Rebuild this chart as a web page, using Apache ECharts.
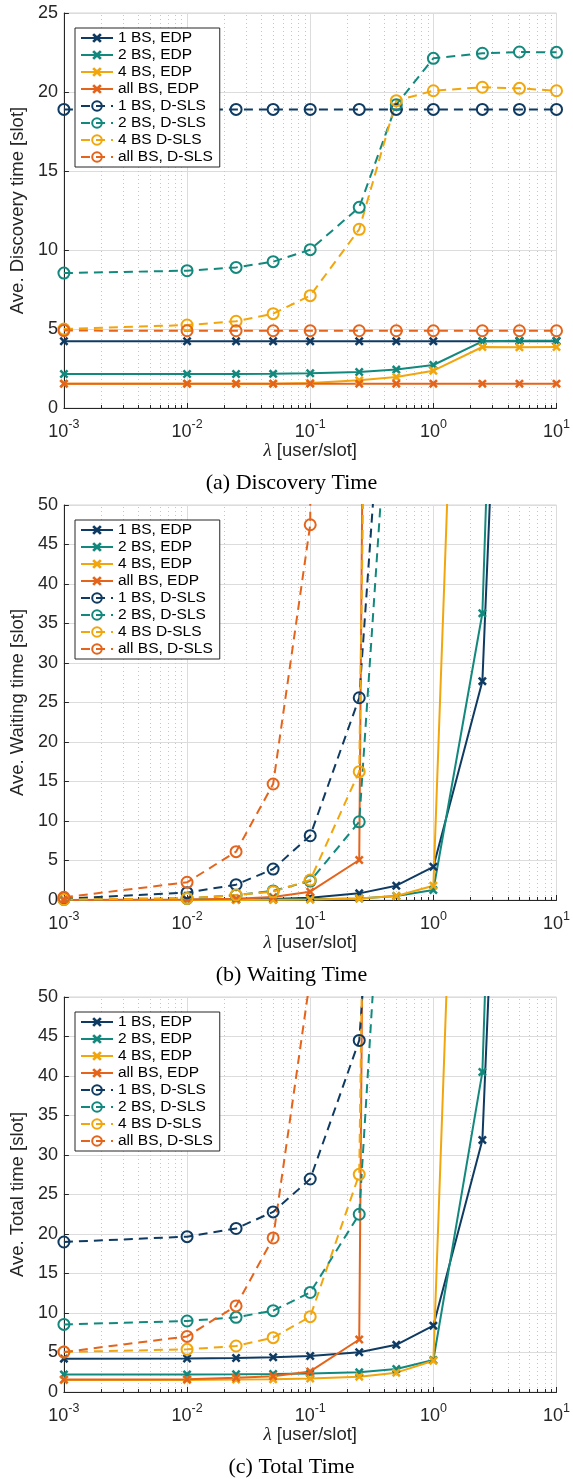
<!DOCTYPE html>
<html><head><meta charset="utf-8">
<script src="https://cdn.jsdelivr.net/npm/echarts@6/dist/echarts.min.js"></script>
<style>html,body{margin:0;padding:0;background:#fff}#c{width:573px;height:1479px}</style>
</head><body><div id="c"></div>
<script>
// ---------------- data ----------------
const lambda = [0.001, 0.01, 0.025, 0.05, 0.1, 0.25, 0.5, 1, 2.5, 5, 10];
const seriesNames = ['1 BS, EDP', '2 BS, EDP', '4 BS, EDP', 'all BS, EDP',
                     '1 BS, D-SLS', '2 BS, D-SLS', '4 BS D-SLS', 'all BS, D-SLS'];
const xTickLabels = ['10^-3', '10^-2', '10^-1', '10^0', '10^1'];
const minorMultipliers = [2, 3, 4, 5, 6, 7, 8, 9];
const decadeStarts = [0.001, 0.01, 0.1, 1];

// (a) Discovery time
const disc_1BS_EDP  = [4.22, 4.22, 4.22, 4.22, 4.22, 4.22, 4.22, 4.22, 4.22, 4.22, 4.22];
const disc_2BS_EDP  = [2.15, 2.15, 2.15, 2.16, 2.2, 2.28, 2.43, 2.72, 4.22, 4.26, 4.26];
const disc_4BS_EDP  = [1.54, 1.54, 1.54, 1.54, 1.58, 1.75, 1.96, 2.36, 3.86, 3.84, 3.86];
const disc_allBS_EDP = [1.54, 1.54, 1.54, 1.54, 1.54, 1.54, 1.54, 1.54, 1.54, 1.54, 1.54];
const disc_1BS_DSLS = [18.9, 18.9, 18.9, 18.9, 18.9, 18.9, 18.9, 18.9, 18.9, 18.9, 18.9];
const disc_2BS_DSLS = [8.54, 8.69, 8.9, 9.26, 10.02, 12.7, 19.2, 22.13, 22.45, 22.53, 22.51];
const disc_4BS_DSLS = [5.0, 5.25, 5.49, 5.97, 7.11, 11.31, 19.45, 20.08, 20.3, 20.23, 20.08];
const disc_allBS_DSLS = [4.9, 4.89, 4.89, 4.89, 4.89, 4.89, 4.89, 4.89, 4.89, 4.89, 4.89];

// (b) Waiting time  (null = not drawn)
const wait_1BS_EDP  = [0.0, 0.03, 0.06, 0.12, 0.3, 0.84, 1.81, 4.2, 27.7, 140, null];
const wait_2BS_EDP  = [0.0, 0.01, 0.02, 0.04, 0.1, 0.2, 0.5, 1.27, 36.3, 177, null];
const wait_4BS_EDP  = [0.0, 0.0, 0.01, 0.02, 0.06, 0.18, 0.5, 1.81, 174, null, null];
const wait_allBS_EDP = [0.0, 0.05, 0.15, 0.37, 1.05, 5.06, 575, null, null, null, null];
const wait_1BS_DSLS = [0.17, 0.93, 1.94, 3.92, 8.14, 25.6, 92, null, null, null, null];
const wait_2BS_DSLS = [0.06, 0.2, 0.6, 1.15, 2.4, 9.9, 80, null, null, null, null];
const wait_4BS_DSLS = [0.06, 0.2, 0.63, 1.05, 2.53, 16.25, 350, null, null, null, null];
const wait_allBS_DSLS = [0.34, 2.24, 6.12, 14.68, 47.5, 2000, null, null, null, null, null];

// (c) Total time
const tot_1BS_EDP  = [4.22, 4.24, 4.3, 4.4, 4.56, 5.03, 5.97, 8.4, 31.9, 144, null];
const tot_2BS_EDP  = [2.23, 2.23, 2.24, 2.27, 2.33, 2.49, 2.91, 4.05, 40.5, 181, null];
const tot_4BS_EDP  = [1.52, 1.53, 1.57, 1.6, 1.7, 1.94, 2.45, 3.95, 178, null, null];
const tot_allBS_EDP = [1.58, 1.6, 1.8, 2.0, 2.6, 6.65, 577, null, null, null, null];
const tot_1BS_DSLS = [18.99, 19.66, 20.7, 22.8, 26.96, 44.5, 111, null, null, null, null];
const tot_2BS_DSLS = [8.56, 8.99, 9.45, 10.3, 12.6, 22.5, 99, null, null, null, null];
const tot_4BS_DSLS = [5.06, 5.4, 5.82, 6.88, 9.54, 27.55, 370, null, null, null, null];
const tot_allBS_DSLS = [5.06, 7.04, 10.9, 19.5, 52.4, 2005, null, null, null, null, null];

const panelTitles = ['Ave. Discovery time [slot]', 'Ave. Waiting time [slot]', 'Ave. Total time [slot]'];
const captions = ['(a) Discovery Time', '(b) Waiting Time', '(c) Total Time'];
const yMaxes = [25, 50, 50];

// ---------------- styling ----------------
const COLORS = ['#0f3b63', '#13897e', '#f2a60d', '#e5641b', '#0f3b63', '#13897e', '#f2a60d', '#e5641b'];
const panels = [
  [disc_1BS_EDP, disc_2BS_EDP, disc_4BS_EDP, disc_allBS_EDP, disc_1BS_DSLS, disc_2BS_DSLS, disc_4BS_DSLS, disc_allBS_DSLS],
  [wait_1BS_EDP, wait_2BS_EDP, wait_4BS_EDP, wait_allBS_EDP, wait_1BS_DSLS, wait_2BS_DSLS, wait_4BS_DSLS, wait_allBS_DSLS],
  [tot_1BS_EDP, tot_2BS_EDP, tot_4BS_EDP, tot_allBS_EDP, tot_1BS_DSLS, tot_2BS_DSLS, tot_4BS_DSLS, tot_allBS_DSLS]
];
const TOPS = [13, 505, 997];
const LEFT = 59, WIDTH = 500, HEIGHT = 395;
const AX = '#262626';
const SANS = 'Liberation Sans, Arial, sans-serif';
const SERIF = 'Liberation Serif, Times New Roman, serif';
const X_SYMBOL = 'path://M0,2L2,0L5,3L8,0L10,2L7,5L10,8L8,10L5,7L2,10L0,8L3,5Z';

const minorTicks = [];
decadeStarts.forEach(d => minorMultipliers.forEach(m => minorTicks.push(+(d * m).toPrecision(3))));

const chart = echarts.init(document.getElementById('c'), null, {renderer: 'canvas'});

const grids = [], xAxes = [], yAxes = [], series = [], legends = [], graphics = [];

TOPS.forEach((top, gi) => {
  grids.push({left: LEFT, top: top, width: WIDTH, height: HEIGHT, show: true,
              borderColor: '#d4d4d4', borderWidth: 1, backgroundColor: 'transparent'});
  xAxes.push({
    type: 'log', logBase: 10, gridIndex: gi, min: 0.001, max: 10, splitNumber: 4,
    axisLine: {onZero: false, lineStyle: {color: AX, width: 1}},
    axisTick: {show: true, inside: true, length: 5, lineStyle: {color: AX}},
    splitLine: {show: true, lineStyle: {color: '#dcdcdc', width: 1}},
    axisLabel: {
      margin: 9, color: AX,
      formatter: v => {
        const e = Math.round(Math.log10(v));
        const lbl = xTickLabels[e + 3] || ('10^' + e);
        const parts = lbl.split('^');
        return '{b|' + parts[0] + '}{s|' + parts[1] + '}';
      },
      rich: {
        b: {fontSize: 18, fontFamily: SANS, color: AX, lineHeight: 24, verticalAlign: 'bottom'},
        s: {fontSize: 12.5, fontFamily: SANS, color: AX, lineHeight: 24, verticalAlign: 'top', padding: [1, 0, 0, 0]}
      }
    },
    name: '{i|λ} [user/slot]', nameLocation: 'middle', nameGap: 33,
    nameTextStyle: {fontSize: 18.5, fontFamily: SANS, color: AX,
      rich: {i: {fontSize: 19, fontFamily: SERIF, fontStyle: 'italic', color: AX}}}
  });
  yAxes.push({
    type: 'value', gridIndex: gi, min: 0, max: yMaxes[gi], interval: 5,
    axisLine: {show: true, onZero: false, lineStyle: {color: AX, width: 1}},
    axisTick: {show: true, inside: true, length: 5, lineStyle: {color: AX}},
    splitLine: {show: true, lineStyle: {color: '#dcdcdc', width: 1}},
    axisLabel: {fontSize: 18, fontFamily: SANS, color: AX, margin: 6},
    name: panelTitles[gi], nameLocation: 'middle', nameGap: 31,
    nameTextStyle: {fontSize: 18.5, fontFamily: SANS, color: AX}
  });

  // minor log grid (dotted) + inward minor ticks
  series.push({
    type: 'custom', xAxisIndex: gi, yAxisIndex: gi, z: 1, silent: true,
    data: minorTicks.map(v => [v, yMaxes[gi]]),
    renderItem: (params, api) => {
      const p0 = api.coord([api.value(0), 0]);
      const p1 = api.coord([api.value(0), api.value(1)]);
      const x = Math.round(p0[0]) + 0.5;
      return {type: 'group', children: [
        {type: 'line', shape: {x1: x, y1: p0[1], x2: x, y2: p1[1]},
         style: {stroke: '#c6c6c6', lineWidth: 1, lineDash: [1, 3]}},
        {type: 'line', shape: {x1: x, y1: p0[1], x2: x, y2: p0[1] - 3},
         style: {stroke: AX, lineWidth: 1}}
      ]};
    }
  });

  panels[gi].forEach((arr, si) => {
    const c = COLORS[si];
    const dashed = si >= 4;
    series.push({
      name: seriesNames[si], type: 'line', xAxisIndex: gi, yAxisIndex: gi, z: 2,
      data: lambda.map((x, i) => [x, arr[i]]).filter(d => d[1] !== null),
      symbol: dashed ? 'circle' : X_SYMBOL,
      symbolSize: dashed ? 11 : 9,
      showAllSymbol: true, clip: true, animation: false,
      lineStyle: {color: c, width: 2, type: dashed ? [9, 6] : 'solid'},
      itemStyle: dashed ? {color: 'rgba(255,255,255,0)', borderColor: c, borderWidth: 2}
                        : {color: c, borderWidth: 0},
      emphasis: {disabled: true}
    });
  });

  legends.push({
    orient: 'vertical', left: 75, top: top + 15, data: seriesNames,
    itemWidth: 32, itemHeight: 12, itemGap: 1, padding: [2, 7, 2, 5],
    borderColor: AX, borderWidth: 1, backgroundColor: '#fff', selectedMode: false,
    textStyle: {fontSize: 15.5, fontFamily: SANS, color: '#000', lineHeight: 16}
  });

  graphics.push({type: 'text', x: 291.5, y: top + HEIGHT + 75, z: 10,
    style: {text: captions[gi], textAlign: 'center', textVerticalAlign: 'middle',
            font: '22px ' + SERIF, fill: '#000'}});
});

chart.setOption({
  animation: false,
  backgroundColor: '#fff',
  grid: grids, xAxis: xAxes, yAxis: yAxes, series: series,
  legend: legends, graphic: graphics
});
</script></body></html>
